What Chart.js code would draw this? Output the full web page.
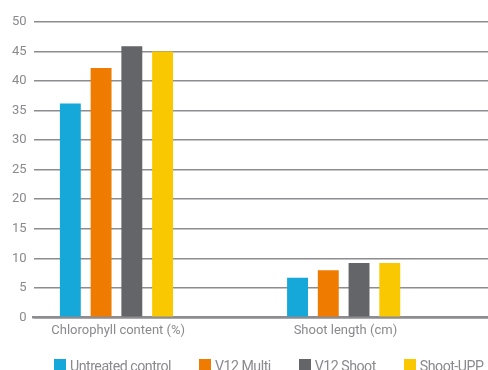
<!DOCTYPE html>
<html>
<head>
<meta charset="utf-8">
<script src="https://cdn.jsdelivr.net/npm/chart.js@4"></script>
<style>
  html, body { margin: 0; padding: 0; background: #fff; overflow: hidden; }
  #wrap { width: 488px; height: 370px; position: relative; overflow: hidden; }
  #legend {
    position: absolute; left: 54px; top: 359px; margin: 0; padding: 0;
    list-style: none; display: flex; white-space: nowrap;
    font-family: Roboto, "Liberation Sans", sans-serif; font-size: 14.2px;
    letter-spacing: -0.5px; line-height: 14px; color: #8a8a8e;
  }
  #legend li { display: flex; align-items: flex-start; margin-right: 28px; }
  #legend li:last-child { margin-right: 0; }
  #legend .box { width: 12px; height: 14px; margin: 0 4px 0 0; flex: none; }
</style>
</head>
<body>
<div id="wrap"><canvas id="c"></canvas><ul id="legend"></ul></div>
<script>
// Measurements per treatment
const categories = ['Chlorophyll content (%)', 'Shoot length (cm)'];
const untreatedControl = [36.2, 6.7];
const v12Multi = [42.2, 8.0];
const v12Shoot = [45.9, 9.2];
const shootUpp = [45.0, 9.2];
const yTicks = [0, 5, 10, 15, 20, 25, 30, 35, 40, 45, 50];

const labelColor = '#8a8a8e';
const gridColor = '#8c8c91';
const font = { family: 'Roboto, "Liberation Sans", sans-serif', size: 13 };

const series = [
  { label: 'Untreated control', data: untreatedControl, backgroundColor: '#16a8d9' },
  { label: 'V12 Multi', data: v12Multi, backgroundColor: '#ef7b00' },
  { label: 'V12 Shoot', data: v12Shoot, backgroundColor: '#636569' },
  { label: 'Shoot-UPP', data: shootUpp, backgroundColor: '#f9c800' },
  // two empty slots keep each group of bars left of its category centre
  { label: '', data: [], backgroundColor: 'rgba(0,0,0,0)', spacer: true },
  { label: '', data: [], backgroundColor: 'rgba(0,0,0,0)', spacer: true }
];

// Legend rendered as an HTML list, built from the chart's own legend items
const htmlLegend = {
  id: 'htmlLegend',
  afterUpdate(chart) {
    const ul = document.getElementById('legend');
    ul.innerHTML = '';
    const items = chart.options.plugins.legend.labels.generateLabels(chart)
      .filter(item => !chart.data.datasets[item.datasetIndex].spacer);
    items.forEach(item => {
      const li = document.createElement('li');
      const box = document.createElement('span');
      box.className = 'box';
      box.style.background = item.fillStyle;
      const txt = document.createElement('span');
      txt.textContent = item.text;
      li.appendChild(box);
      li.appendChild(txt);
      ul.appendChild(li);
    });
  }
};

new Chart(document.getElementById('c'), {
  type: 'bar',
  data: {
    labels: categories,
    datasets: series.map(s => ({
      label: s.label,
      data: s.data,
      backgroundColor: s.backgroundColor,
      borderWidth: 0,
      categoryPercentage: 0.812,
      barPercentage: 0.68,
      spacer: !!s.spacer
    }))
  },
  plugins: [htmlLegend],
  options: {
    responsive: true,
    maintainAspectRatio: false,
    animation: false,
    layout: { padding: { left: 5, right: -6, top: 22, bottom: 25 } },
    plugins: {
      tooltip: { enabled: false },
      legend: { display: false }
    },
    scales: {
      x: {
        grid: { display: false, drawTicks: false },
        border: { display: true, color: gridColor, width: 2.5 },
        ticks: { color: labelColor, font: font, padding: 6, labelOffset: -29, maxRotation: 0 }
      },
      y: {
        min: 0,
        max: 50,
        afterBuildTicks: axis => { axis.ticks = yTicks.map(v => ({ value: v })); },
        grid: { color: gridColor, lineWidth: 1.6, drawTicks: false },
        border: { display: false },
        ticks: { color: labelColor, font: font, padding: 7 }
      }
    }
  }
});
</script>
</body>
</html>
